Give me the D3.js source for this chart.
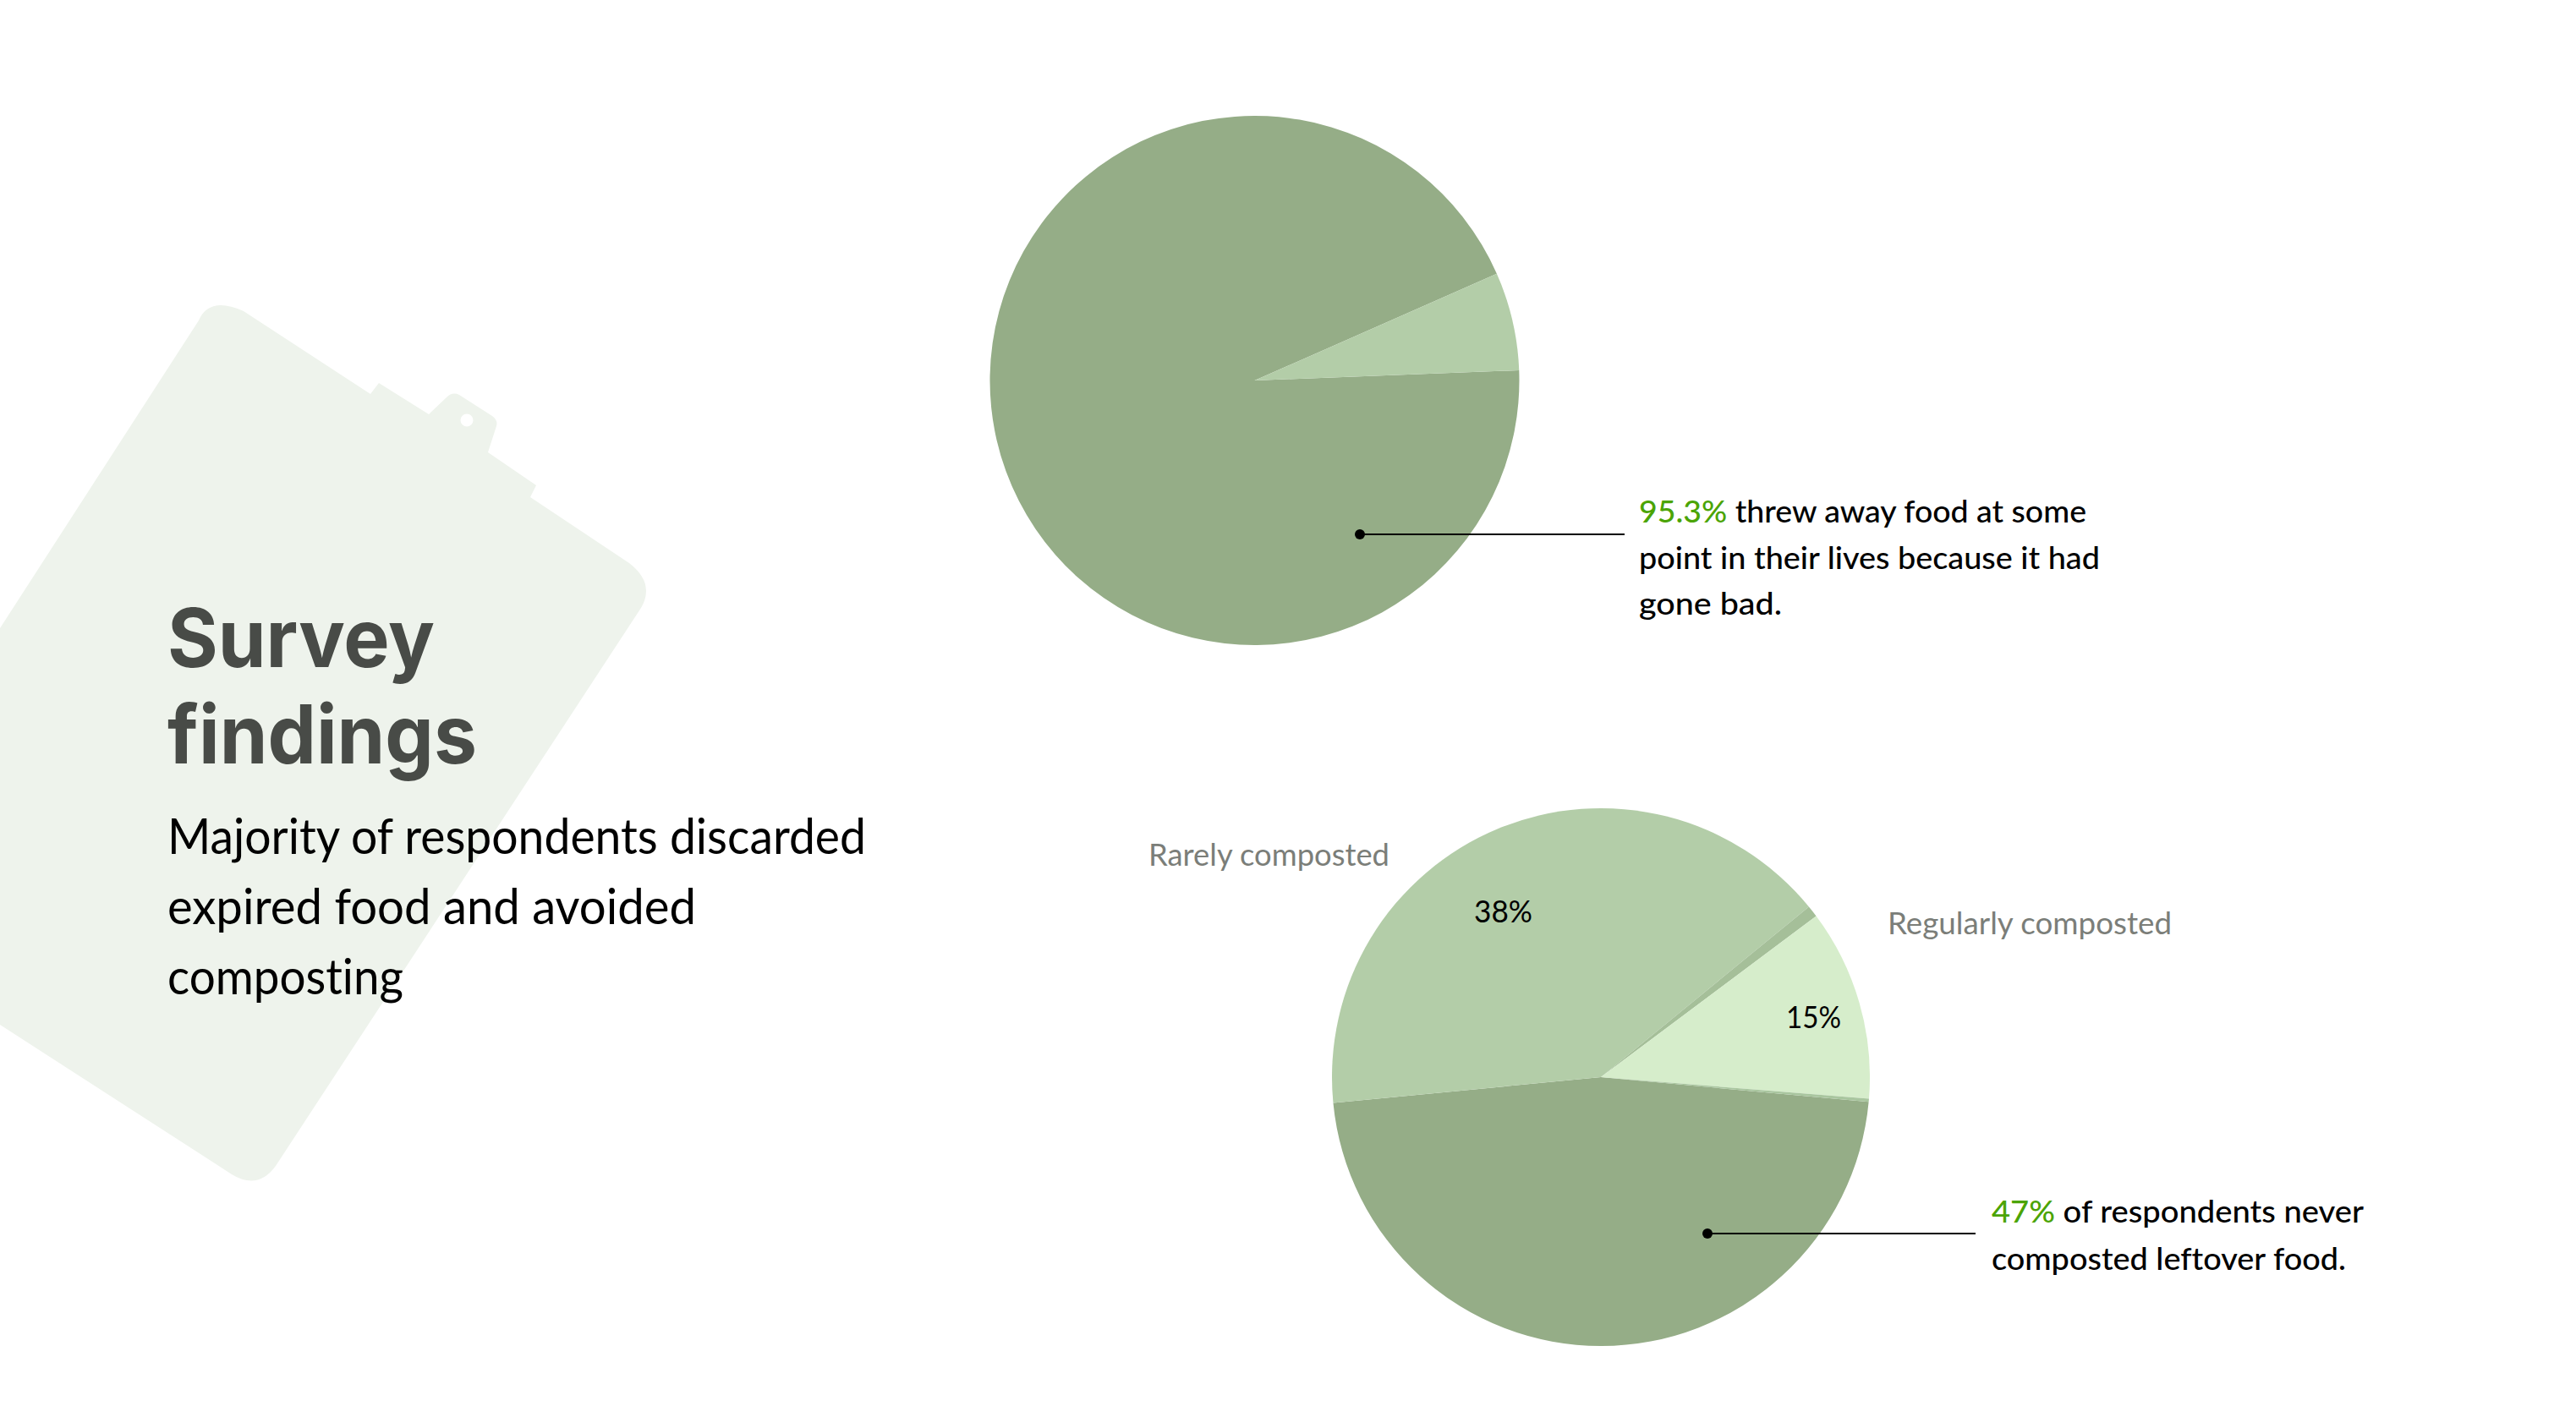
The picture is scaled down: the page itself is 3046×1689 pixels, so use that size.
<!DOCTYPE html>
<html>
<head>
<meta charset="utf-8">
<title>Survey findings</title>
<script src="https://cdn.jsdelivr.net/npm/d3@7"></script>
<style>
  html, body { margin: 0; padding: 0; background: #fff; }
  svg { display: block; }
  text { font-variant-ligatures: none; }
</style>
</head>
<body>
<div id="chart"></div>
<script>
// Shares as drawn in the picture, in percent of the circle
const discardCategories = ["Threw away food", "Did not"];
const discardValues = [94, 6];
const compostCategories = ["Never composted", "Rarely composted", "Overlap", "Regularly composted", "Overlap 2"];
const compostValues = [47, 40.6, 0.7, 11.5, 0.2];

const discardColors = ["#95ad87", "#b3cda8"];
const compostColors = ["#95ad87", "#b3cda8", "#a5bf99", "#d6edcb", "#a9c69f"];

const titleLines = [
  { text: "Survey", width: 316 },
  { text: "findings", width: 366 },
];
const subtitleLines = [
  { text: "Majority of respondents discarded", width: 826 },
  { text: "expired food and avoided", width: 625 },
  { text: "composting", width: 279 },
];
const discardNote = [
  { accent: "95.3%", text: " threw away food at some", width: 529 },
  { accent: "", text: "point in their lives because it had", width: 545 },
  { accent: "", text: "gone bad.", width: 169 },
];
const compostNote = [
  { accent: "47%", text: " of respondents never", width: 440 },
  { accent: "", text: "composted leftover food.", width: 419 },
];

const W = 3046, H = 1689;
const bodyFont = "Lato, 'Noto Sans', sans-serif";
const rad = (deg) => (deg * Math.PI) / 180;

const svg = d3.select("#chart").append("svg").attr("width", W).attr("height", H);

// Clipboard shape behind the title
const board = d3.path();
board.moveTo(0, 743);
board.lineTo(235, 379);
board.quadraticCurveTo(247, 350, 288, 368);
board.lineTo(438, 466);
board.lineTo(448, 453);
board.lineTo(507, 490);
board.lineTo(528, 470);
board.quadraticCurveTo(535, 463, 543, 467);
board.lineTo(582, 492);
board.quadraticCurveTo(589, 497, 587, 504);
board.lineTo(577, 535);
board.lineTo(634, 574);
board.lineTo(627, 588);
board.lineTo(744, 666);
board.quadraticCurveTo(775, 690, 758, 719);
board.lineTo(326, 1379);
board.quadraticCurveTo(305, 1408, 274, 1389);
board.lineTo(0, 1212);
board.closePath();
board.moveTo(559.5, 497);
board.arc(552, 497, 7.5, 0, 2 * Math.PI);

svg.append("path")
  .attr("d", board.toString())
  .attr("fill", "#eef3ec")
  .attr("fill-rule", "evenodd");

// Draws one pie, clockwise from the given start angle
function drawPie(values, colors, cx, cy, radius, startDeg) {
  const pie = d3.pie().sort(null)
    .startAngle(rad(startDeg))
    .endAngle(rad(startDeg + 360));
  const arc = d3.arc().innerRadius(0).outerRadius(radius);
  svg.append("g")
    .attr("transform", `translate(${cx},${cy})`)
    .selectAll("path")
    .data(pie(values))
    .join("path")
    .attr("d", arc)
    .attr("fill", (d, i) => colors[i]);
}

drawPie(discardValues, discardColors, 1483.5, 450, 313, 87.8);
drawPie(compostValues, compostColors, 1893, 1274, 318, 95.3);

// Text fitted to the width it has in the picture
function fitLine(x, y, line, size, weight, fill, family) {
  const t = svg.append("text")
    .attr("x", x)
    .attr("y", y)
    .attr("font-family", family)
    .attr("font-size", size)
    .attr("font-weight", weight)
    .attr("fill", fill)
    .attr("xml:space", "preserve")
    .attr("textLength", line.width)
    .attr("lengthAdjust", "spacingAndGlyphs");
  if (line.accent) t.append("tspan").attr("fill", "#4ba405").text(line.accent);
  t.append("tspan").text(line.text);
}

titleLines.forEach((l, i) =>
  fitLine(198, 789 + i * 114, l, 96, 700, "#484b47", "Inter, sans-serif"));
subtitleLines.forEach((l, i) =>
  fitLine(198, 1010 + i * 83, l, 58, 400, "#000", bodyFont));
discardNote.forEach((l, i) =>
  fitLine(1938, 618 + i * 54.5, l, 37, 500, "#000", bodyFont));
compostNote.forEach((l, i) =>
  fitLine(2355, 1445.5 + i * 56, l, 37, 500, "#000", bodyFont));

fitLine(1358, 1023.5, { text: "Rarely composted", width: 285 }, 37, 400, "#7b7e79", bodyFont);
fitLine(2232, 1105, { text: "Regularly composted", width: 336 }, 37, 400, "#7b7e79", bodyFont);
fitLine(1743, 1090.5, { text: "38%", width: 69 }, 37, 400, "#000", bodyFont);
fitLine(2112, 1216, { text: "15%", width: 65 }, 37, 400, "#000", bodyFont);

// Leader lines with their dots
const leaders = [
  { x1: 1608, x2: 1921, y: 632 },
  { x1: 2019, x2: 2336, y: 1459 },
];
leaders.forEach((d) => {
  svg.append("line")
    .attr("x1", d.x1).attr("x2", d.x2)
    .attr("y1", d.y).attr("y2", d.y)
    .attr("stroke", "#000")
    .attr("stroke-width", 2);
  svg.append("circle")
    .attr("cx", d.x1).attr("cy", d.y)
    .attr("r", 6)
    .attr("fill", "#000");
});
</script>
</body>
</html>
